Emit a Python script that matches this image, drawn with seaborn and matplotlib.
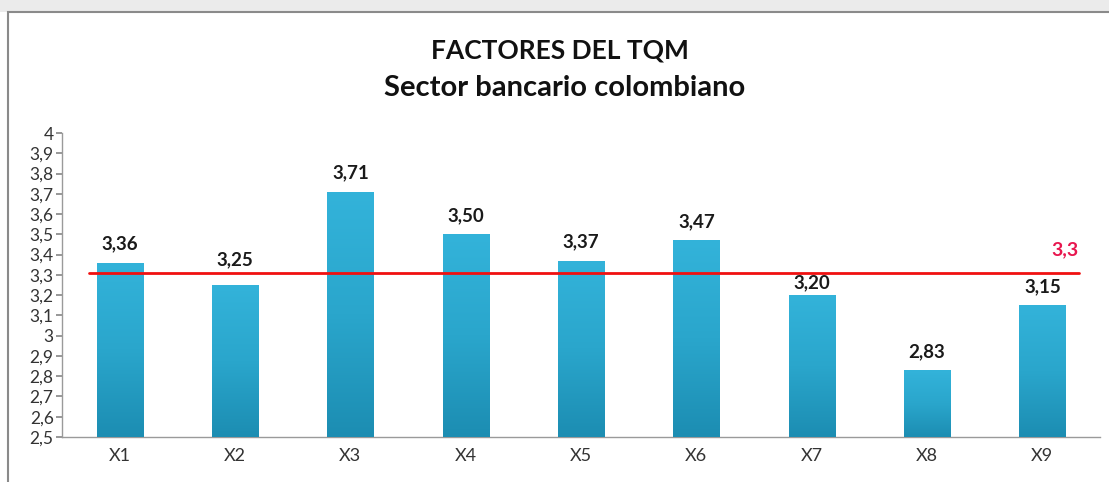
import numpy as np
import pandas as pd
import matplotlib
matplotlib.use("Agg")
import matplotlib.pyplot as plt
import seaborn as sns
from matplotlib.patches import Rectangle

# datos del gráfico
factores = ["X1", "X2", "X3", "X4", "X5", "X6", "X7", "X8", "X9"]
promedios = [3.36, 3.25, 3.71, 3.50, 3.37, 3.47, 3.20, 2.83, 3.15]
media_general = 3.31
etiqueta_media = "3,3"
y_ticks = [2.5, 2.6, 2.7, 2.8, 2.9, 3.0, 3.1, 3.2, 3.3, 3.4, 3.5, 3.6, 3.7, 3.8, 3.9, 4.0]

sns.set_theme(style="white")
plt.rcParams['font.family'] = ['Lato', 'DejaVu Sans']

df = pd.DataFrame({"Factor": factores, "Promedio": promedios})

fig = plt.figure(figsize=(11.09, 4.82), dpi=100)
fig.patch.set_facecolor("white")

# franja gris superior y marco del gráfico
fig.patches.append(Rectangle((0, 1 - 12 / 482), 1, 12 / 482, transform=fig.transFigure,
                             facecolor="#ebebeb", edgecolor="none", zorder=0))
fig.patches.append(Rectangle((8 / 1109, -0.1), 1.2, 1.1 - 12 / 482, transform=fig.transFigure,
                             facecolor="none", edgecolor="#8a8a8a", linewidth=1.5, zorder=1))

ax = fig.add_axes([62 / 1109, 1 - 437 / 482, (1100 - 62) / 1109, (437 - 133) / 482])
sns.barplot(data=df, x="Factor", y="Promedio", color="#2aa5cb", width=0.4,
            saturation=1, ax=ax, zorder=2)

# degradado vertical en cada barra (estilo Excel)
grad = np.linspace(0, 1, 256).reshape(-1, 1)
cmap = matplotlib.colors.LinearSegmentedColormap.from_list("barra", ["#1c8db2", "#2aa6cc", "#33b3da"])
for p in ax.patches:
    x0, w, h = p.get_x(), p.get_width(), p.get_height()
    im = ax.imshow(grad, cmap=cmap, origin="lower", aspect="auto",
                   extent=[x0, x0 + w, 2.5, h], zorder=3)
    im.set_clip_path(p)
ax.set_xlim(-0.5, 8.5)
ax.set_ylim(2.5, 4.0)

# etiquetas de valores (X2 y X7 desplazadas para no tapar la línea, como en el original)
ajuste = {"X2": 0.035, "X7": -0.03}
for i, v in enumerate(promedios):
    dy = ajuste.get(factores[i], 0)
    ax.text(i, v + 0.05 + dy, f"{v:.2f}".replace(".", ","), ha="center", va="bottom",
            fontsize=13.5, fontweight="bold", color="#1a1a1a", zorder=5)

# línea de la media
ax.plot([-0.27, 8.32], [media_general, media_general], color="#f01010", linewidth=2, zorder=4)
ax.text(8.2, media_general + 0.07, etiqueta_media, color="#e8174f", fontsize=14,
        fontweight="bold", ha="center", va="bottom", zorder=5)

ax.set_yticks(y_ticks)
ax.set_yticklabels([f"{t:g}".replace(".", ",") for t in y_ticks], fontsize=12.5, color="#333333")
ax.tick_params(axis="y", which="both", left=True, length=4, color="#8a8a8a", pad=2)
ax.tick_params(axis="x", labelsize=13, colors="#333333", pad=8, length=0)
ax.set_xlabel("")
ax.set_ylabel("")

for s in ["top", "right"]:
    ax.spines[s].set_visible(False)
ax.spines["left"].set_color("#9a9a9a")
ax.spines["bottom"].set_color("#9a9a9a")
ax.spines["left"].set_linewidth(1)
ax.spines["bottom"].set_linewidth(1)
ax.set_facecolor("none")

fig.text(560 / 1109, 1 - 50 / 482, "FACTORES DEL TQM", ha="center", va="center",
         fontsize=19, fontweight="bold", color="#111111")
fig.text(565 / 1109, 1 - 88 / 482, "Sector bancario colombiano", ha="center", va="center",
         fontsize=21, fontweight="bold", color="#111111")

fig.savefig("out.png", dpi=100)
